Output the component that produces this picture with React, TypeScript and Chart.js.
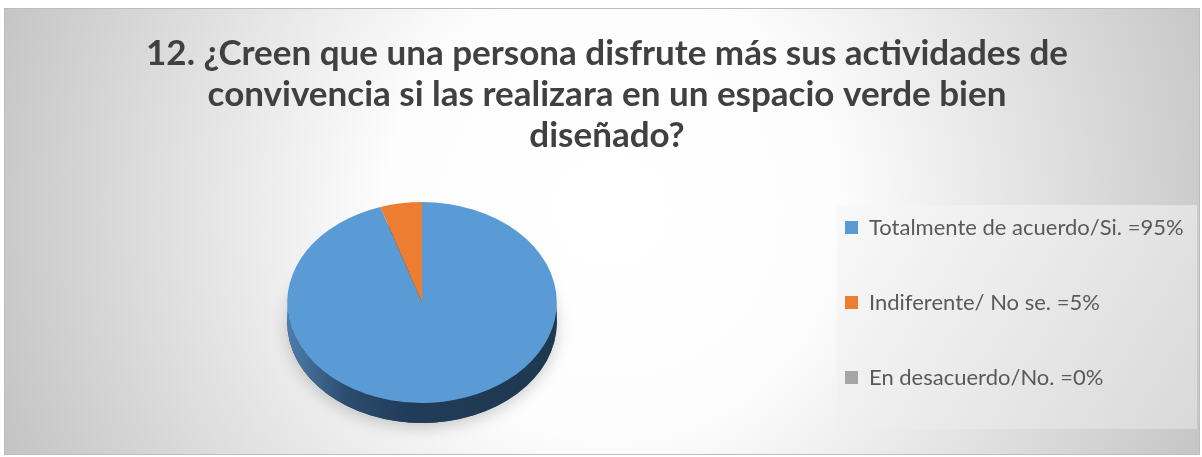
import React, { useEffect, useRef } from 'react';
import { Chart, registerables } from 'chart.js';

Chart.register(...registerables);

const titleLines = [
  '12. ¿Creen que una persona disfrute más sus actividades de',
  'convivencia si las realizara en un espacio verde bien',
  'diseñado?',
];
const categories = [
  'Totalmente de acuerdo/Si. =95%',
  'Indiferente/ No se. =5%',
  'En desacuerdo/No. =0%',
];
const values = [95, 5, 0];
const sliceColors = ['#5B9BD5', '#ED7D31', '#A5A5A5'];
const sideStops = [
  ['#4d7dad', '#2c4c6e', '#213c58', '#1f3850'],
  ['#b35a1f', '#8a4316', '#7a3a12', '#6e3410'],
  ['#7d7d7d', '#5e5e5e', '#525252', '#4a4a4a'],
];

const TILT = 0.745;
const DEPTH = 20;

const backgroundPlugin = {
  id: 'backgroundPanels',
  afterLayout(chart: any) {
    // let the legend labels run to the right edge of the frame
    const lg = chart.legend;
    if (lg) {
      lg.right = chart.width - 8;
      lg.width = lg.right - lg.left;
    }
  },
  beforeDraw(chart: any) {
    const { ctx, width, height } = chart;
    ctx.save();
    ctx.fillStyle = '#ffffff';
    ctx.fillRect(0, 0, width, height);
    const bx = 4, by = 8, bw = width - 6, bh = height - 10;
    const g = ctx.createRadialGradient(610, 210, 0, 610, 210, 640);
    g.addColorStop(0, '#ffffff');
    g.addColorStop(0.35, '#fdfdfd');
    g.addColorStop(1, '#c5c5c5');
    ctx.fillStyle = g;
    ctx.fillRect(bx, by, bw, bh);
    ctx.strokeStyle = '#bdbdbd';
    ctx.lineWidth = 1;
    ctx.strokeRect(bx + 0.5, by + 0.5, bw - 1, bh - 1);

    const lg = chart.legend;
    if (lg) {
      const px = lg.left + 45;
      const py = lg.top + 49;
      const pw = width - 5 - px;
      const ph = lg.bottom - 20 - py;
      const lgGrad = ctx.createLinearGradient(px, py, px + pw, py + ph);
      lgGrad.addColorStop(0, '#f9f9f9');
      lgGrad.addColorStop(1, '#d9d9d9');
      ctx.fillStyle = lgGrad;
      ctx.fillRect(px, py, pw, ph);
    }
    ctx.restore();
  },
};

const pie3dPlugin = {
  id: 'pie3d',
  beforeDatasetsDraw(chart: any) {
    const meta = chart.getDatasetMeta(0);
    const arcs = meta.data;
    const ctx = chart.ctx;
    ctx.save();
    if (!arcs.length) return;
    const p0 = arcs[0].getProps(['x', 'y', 'outerRadius'], true);
    const cx = p0.x, cy = p0.y, r = p0.outerRadius;
    const ry = r * TILT;

    // soft shadow under the pie
    ctx.save();
    ctx.shadowColor = 'rgba(0,0,0,0.2)';
    ctx.shadowBlur = 16;
    ctx.shadowOffsetY = 4;
    ctx.fillStyle = '#1f3850';
    ctx.beginPath();
    ctx.ellipse(cx, cy + DEPTH, r, ry, 0, 0, Math.PI * 2);
    ctx.fill();
    ctx.restore();

    // side walls (front half only)
    arcs.forEach((arc: any, i: number) => {
      const p = arc.getProps(['startAngle', 'endAngle'], true);
      const s = p.startAngle, e = p.endAngle;
      if (e - s <= 0) return;
      const stops = sideStops[i % sideStops.length];
      const grad = ctx.createLinearGradient(cx - r, 0, cx + r, 0);
      grad.addColorStop(0, stops[0]);
      grad.addColorStop(0.22, stops[1]);
      grad.addColorStop(0.45, stops[2]);
      grad.addColorStop(1, stops[3]);
      for (let n = -1; n <= 2; n++) {
        const lo = Math.max(s, n * 2 * Math.PI);
        const hi = Math.min(e, n * 2 * Math.PI + Math.PI);
        if (hi > lo) {
          ctx.beginPath();
          ctx.ellipse(cx, cy, r, ry, 0, lo, hi);
          ctx.ellipse(cx, cy + DEPTH, r, ry, 0, hi, lo, true);
          ctx.closePath();
          ctx.fillStyle = grad;
          ctx.fill();
        }
      }
    });

    // tilt the top face
    ctx.translate(cx, cy);
    ctx.scale(1, TILT);
    ctx.translate(-cx, -cy);
  },
  afterDatasetsDraw(chart: any) {
    chart.ctx.restore();
  },
};

export default function App() {
  const canvasRef = useRef<HTMLCanvasElement | null>(null);

  useEffect(() => {
    if (!canvasRef.current) return;
    const chart = new Chart(canvasRef.current, {
      type: 'pie',
      data: {
        labels: categories,
        datasets: [
          {
            data: values,
            backgroundColor: sliceColors,
            borderWidth: 0,
            radius: '92%',
            clip: false,
          } as any,
        ],
      },
      options: {
        responsive: false,
        animation: false,
        events: [],
        layout: { padding: { top: 8, left: 52, right: 40, bottom: 8 } },
        plugins: {
          tooltip: { enabled: false },
          title: {
            display: true,
            text: titleLines,
            color: '#404040',
            font: { family: 'Lato', size: 35, weight: 'bold', lineHeight: 41 / 35 },
            padding: { top: 25, bottom: 0 },
          },
          legend: {
            position: 'right',
            align: 'center',
            fullSize: false,
            maxWidth: 370,
            labels: {
              boxWidth: 13,
              boxHeight: 13,
              padding: 53,
              color: '#595959',
              font: { family: 'Lato', size: 22 },
            },
          },
        },
      } as any,
      plugins: [backgroundPlugin, pie3dPlugin],
    });
    return () => chart.destroy();
  }, []);

  return (
    <div style={{ position: 'absolute', left: 0, top: 0, width: 1202, height: 457 }}>
      <canvas ref={canvasRef} width={1202} height={457} style={{ display: 'block' }} />
    </div>
  );
}
